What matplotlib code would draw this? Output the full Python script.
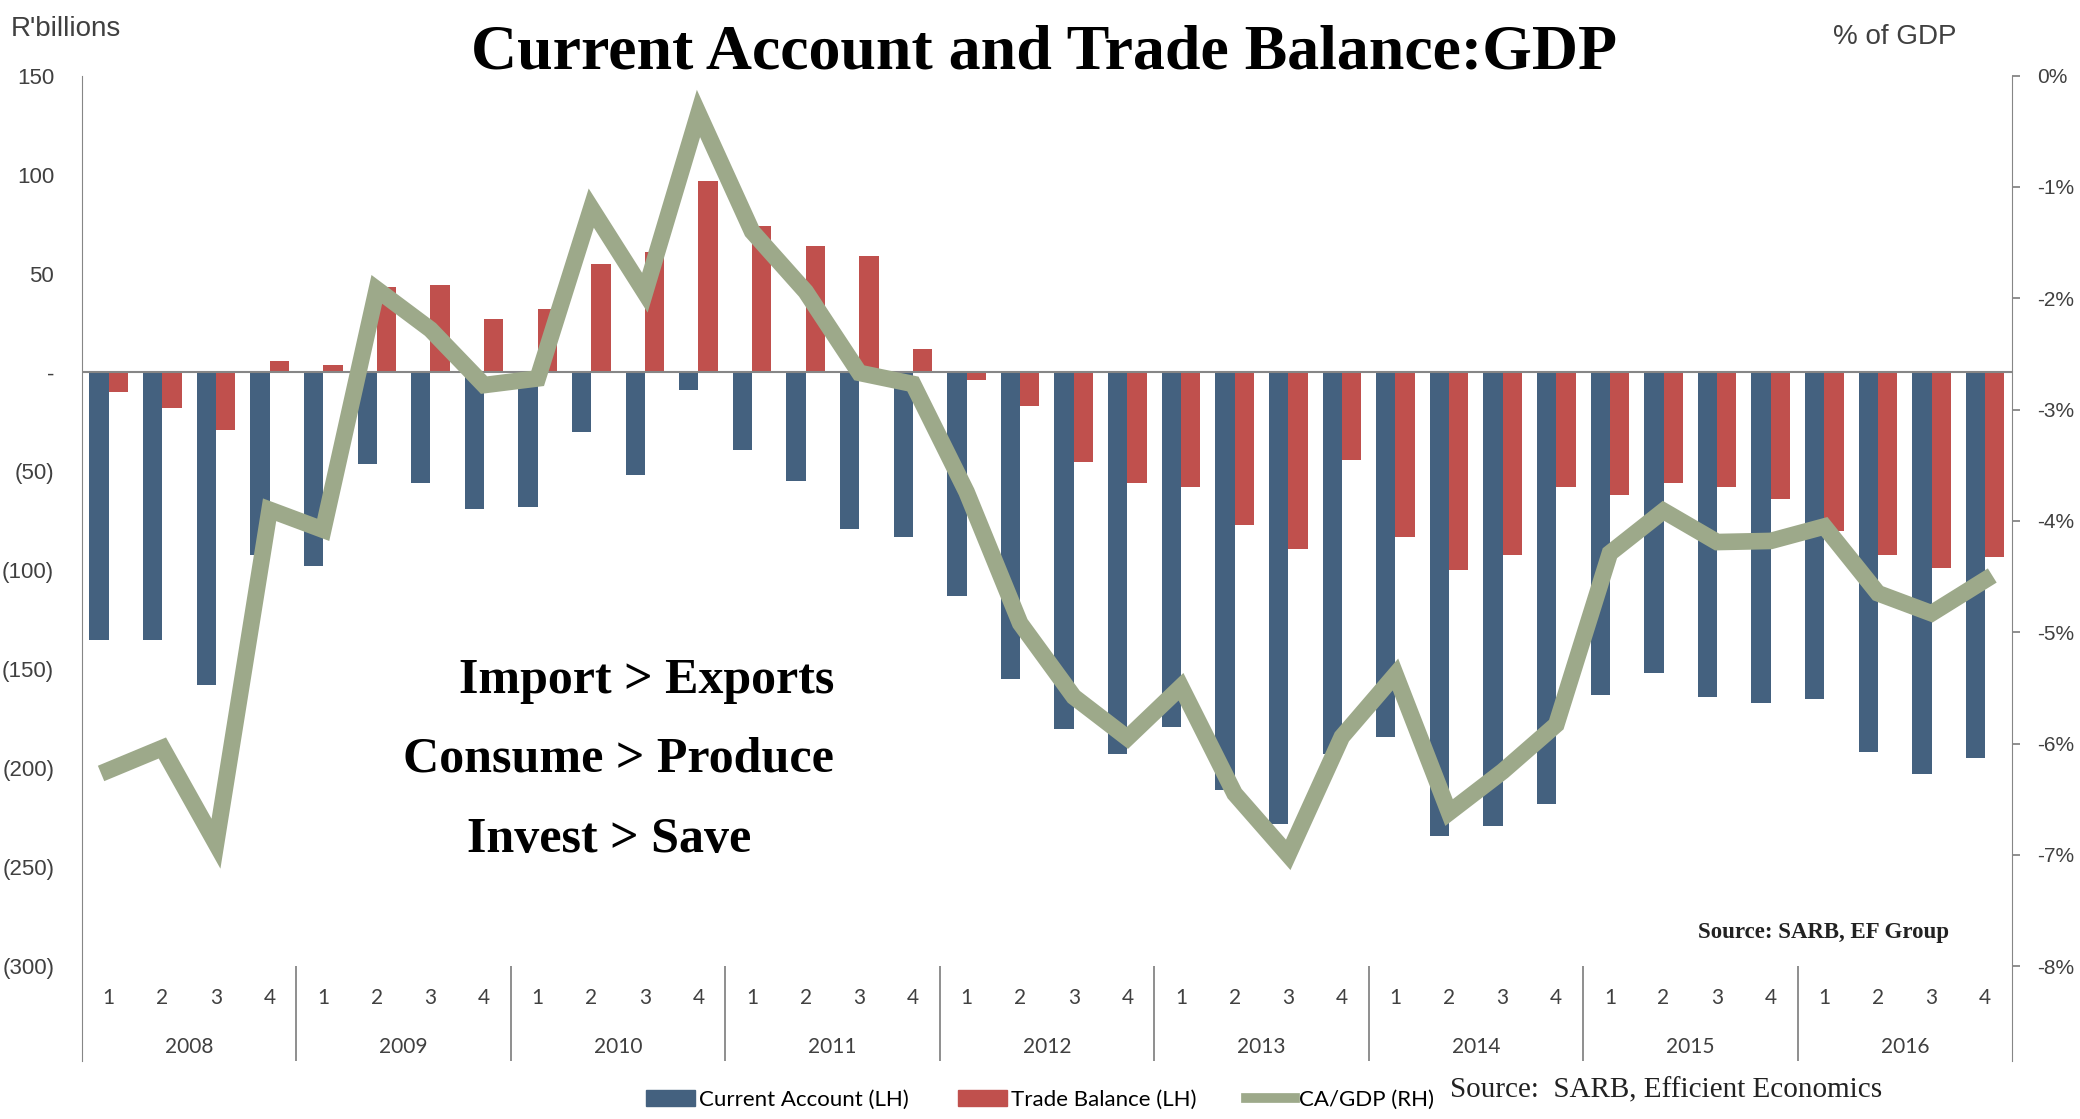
import numpy as np
import matplotlib.pyplot as plt
from matplotlib.patches import Patch
from matplotlib.lines import Line2D

# quarterly data, 2008Q1 - 2016Q4
years = ['2008', '2009', '2010', '2011', '2012', '2013', '2014', '2015', '2016']
quarters = ['1', '2', '3', '4']

current_account = [-135, -135, -158, -92,
                   -98, -46, -56, -69,
                   -68, -30, -52, -9,
                   -39, -55, -79, -83,
                   -113, -155, -180, -193,
                   -179, -211, -228, -193,
                   -184, -234, -229, -218,
                   -163, -152, -164, -167,
                   -165, -192, -203, -195]

trade_balance = [-10, -18, -29, 6,
                 4, 43, 44, 27,
                 32, 55, 61, 97,
                 74, 64, 59, 12,
                 -4, -17, -45, -56,
                 -58, -77, -89, -44,
                 -83, -100, -92, -58,
                 -62, -56, -58, -64,
                 -80, -92, -99, -93]

ca_gdp = [-6.24, -6.04, -6.90, -3.90,
          -4.08, -1.92, -2.28, -2.78,
          -2.72, -1.19, -1.95, -0.34,
          -1.40, -1.94, -2.67, -2.77,
          -3.74, -4.92, -5.58, -5.95,
          -5.49, -6.45, -7.00, -5.94,
          -5.38, -6.62, -6.25, -5.83,
          -4.29, -3.91, -4.19, -4.18,
          -4.05, -4.65, -4.83, -4.53]

blue = '#44617F'
red = '#C0504D'
green = '#9DA98A'
grey = '#868686'
txt = '#404040'

n = len(current_account)
x = np.arange(n)
w = 0.36

fig = plt.figure(figsize=(20.8, 11.19), dpi=100)
ax = fig.add_axes([0.0394, 0.0517, 0.9279, 0.8807])

ax.bar(x - w / 2, current_account, width=w, color=blue, zorder=2)
ax.bar(x + w / 2, trade_balance, width=w, color=red, zorder=2)
ax.axhline(0, color=grey, lw=1.5, zorder=3)

ymin, ymax = -348, 150
ax.set_ylim(ymin, ymax)
ax.set_xlim(-0.5, n - 0.5)
ax.set_xticks([])

lticks = [150, 100, 50, 0, -50, -100, -150, -200, -250, -300]
def lfmt(v):
    if v == 0:
        return '-'
    if v < 0:
        return '(%d)' % (-v)
    return '%d' % v
ax.set_yticks(lticks)
ax.set_yticklabels([lfmt(v) for v in lticks], fontsize=16, color=txt,
                   family='Liberation Sans')
ax.tick_params(axis='y', length=0, pad=20)

for s in ['top', 'bottom']:
    ax.spines[s].set_visible(False)
ax.spines['left'].set_color(grey)
ax.spines['right'].set_visible(False)

# category axis labels
for i in range(n):
    ax.text(i, -316, quarters[i % 4], ha='center', va='center', fontsize=15,
            color=txt, family='Lato')
for j, yr in enumerate(years):
    ax.text(j * 4 + 1.5, -341, yr, ha='center', va='center', fontsize=15,
            color=txt, family='Lato')
ax.vlines(np.arange(3.5, n - 1, 4), ymin, -300, color=grey, lw=1.3,
          clip_on=False)

# right axis for CA/GDP
ax2 = ax.twinx()
ax2.plot(x, ca_gdp, color=green, lw=12, solid_joinstyle='miter', zorder=5)
ax2.set_ylim((ymin - 150) / 56.25, 0)
rticks = list(range(0, -9, -1))
ax2.set_yticks(rticks)
ax2.set_yticklabels(['%d%%' % v for v in rticks], fontsize=15, color=txt,
                    family='Liberation Sans')
ax2.tick_params(axis='y', length=6, width=1.3, color=grey, pad=12)
for s in ['top', 'bottom', 'left']:
    ax2.spines[s].set_visible(False)
ax2.spines['right'].set_color(grey)

# titles and notes
fig.text(0.502, 0.952, 'Current Account and Trade Balance:GDP', ha='center',
         va='center', fontsize=46, fontweight='bold', family='Liberation Serif')
fig.text(0.005, 0.974, "R'billions", ha='left', va='center', fontsize=20,
         color=txt, family='Liberation Sans')
fig.text(0.911, 0.967, '% of GDP', ha='center', va='center', fontsize=20,
         color=txt, family='Liberation Sans', zorder=6)

fig.text(0.401, 0.391, 'Import > Exports', ha='right', va='center',
         fontsize=36, fontweight='bold', family='Liberation Serif', zorder=6)
fig.text(0.401, 0.321, 'Consume > Produce', ha='right', va='center',
         fontsize=36, fontweight='bold', family='Liberation Serif', zorder=6)
fig.text(0.293, 0.249, 'Invest > Save', ha='center', va='center',
         fontsize=36, fontweight='bold', family='Liberation Serif', zorder=6)

fig.text(0.937, 0.167, 'Source: SARB, EF Group', ha='right', va='center',
         fontsize=16.5, fontweight='bold', family='Liberation Serif', color='#222222')
fig.text(0.697, 0.026, 'Source:  SARB, Efficient Economics', ha='left',
         va='center', fontsize=21, family='Liberation Serif', color='#222222')

handles = [Patch(color=blue), Patch(color=red),
           Line2D([], [], color=green, lw=7)]
labels = ['Current Account (LH)', 'Trade Balance (LH)', 'CA/GDP (RH)']
fig.legend(handles, labels, loc='center', bbox_to_anchor=(0.5, 0.017), ncol=3,
           frameon=False, handlelength=2.2, handletextpad=0.2,
           columnspacing=2.2, prop={'family': 'Lato', 'size': 16})

fig.savefig('out.png', dpi=100)
